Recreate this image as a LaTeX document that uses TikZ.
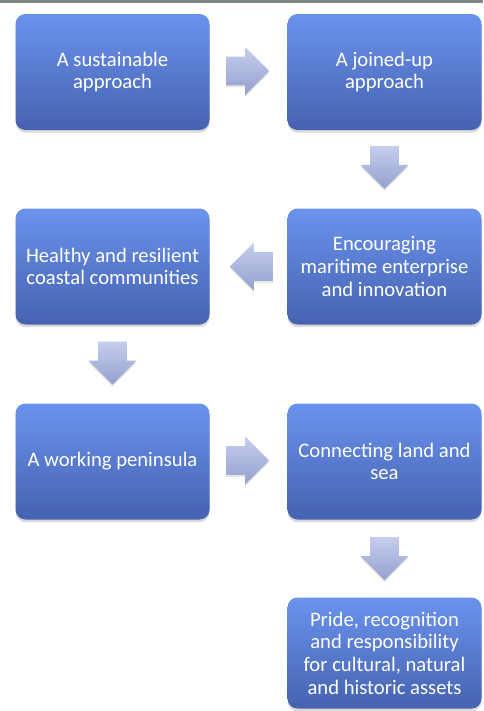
\documentclass[tikz,border=0pt]{standalone}
\usepackage{fontspec}
\setmainfont{Carlito}
\usetikzlibrary{calc,shapes.arrows,shadows}

\definecolor{boxtop}{RGB}{106,147,237}
\definecolor{boxbot}{RGB}{70,98,176}
\definecolor{arrtop}{RGB}{198,206,238}
\definecolor{arrbot}{RGB}{148,160,205}
\definecolor{rulegray}{RGB}{122,136,136}

\tikzset{
  theme/.style={rounded corners=7.5pt, top color=boxtop, bottom color=boxbot,
    minimum width=145.5pt, minimum height=87pt, inner sep=0pt,
    text=white, align=center, font=\fontsize{15.5}{17}\selectfont,
    drop shadow={shadow xshift=0pt, shadow yshift=-2pt, opacity=0.3}},
  flow/.style={single arrow, top color=arrtop, bottom color=arrbot,
    minimum height=31.5pt, minimum width=35.5pt, inner sep=10.5pt,
    single arrow head extend=7.25pt, single arrow head indent=0pt,
    drop shadow={shadow xshift=0pt, shadow yshift=-1.5pt, opacity=0.2}}
}

\begin{document}
\begin{tikzpicture}[x=0.75pt,y=-0.75pt]

  \useasboundingbox (0,0) rectangle (483,711);
  \fill[rulegray] (0,0) rectangle (483,3);

  % the seven themes, left to right and down the page
  \node[theme] (sustain)    at (112.5,72)    {A sustainable\\approach};
  \node[theme] (joined)     at (384.5,72)    {A joined-up\\approach};
  \node[theme] (enterprise) at (384.5,266.5) {Encouraging\\maritime enterprise\\and innovation};
  \node[theme] (healthy)    at (112.5,266.5) {Healthy and resilient\\coastal communities};
  \node[theme] (working)    at (112.5,461.5) {A working peninsula};
  \node[theme] (connect)    at (384.5,461.5) {Connecting land and\\sea};
  \node[theme, minimum height=83.25pt] (pride) at (384.5,653)
    {Pride, recognition\\and responsibility\\for cultural, natural\\and historic assets};

  % block arrows between the boxes (the head sits off the node centre)
  \node[flow] (a1) at ($(sustain.east)!0.5!(joined.west)+(-8,-1)$) {};
  \node[flow, shape border rotate=270] (a2) at ($(joined.south)!0.5!(enterprise.north)+(0,-9)$) {};
  \node[flow, shape border rotate=180] (a3) at ($(enterprise.west)!0.5!(healthy.east)+(10,0)$) {};
  \node[flow, shape border rotate=270] (a4) at ($(healthy.south)!0.5!(working.north)+(0,-8)$) {};
  \node[flow] (a5) at ($(working.east)!0.5!(connect.west)+(-8,-1)$) {};
  \node[flow, shape border rotate=270] (a6) at ($(connect.south)!0.5!(pride.north)+(0,-7)$) {};

\end{tikzpicture}
\end{document}
